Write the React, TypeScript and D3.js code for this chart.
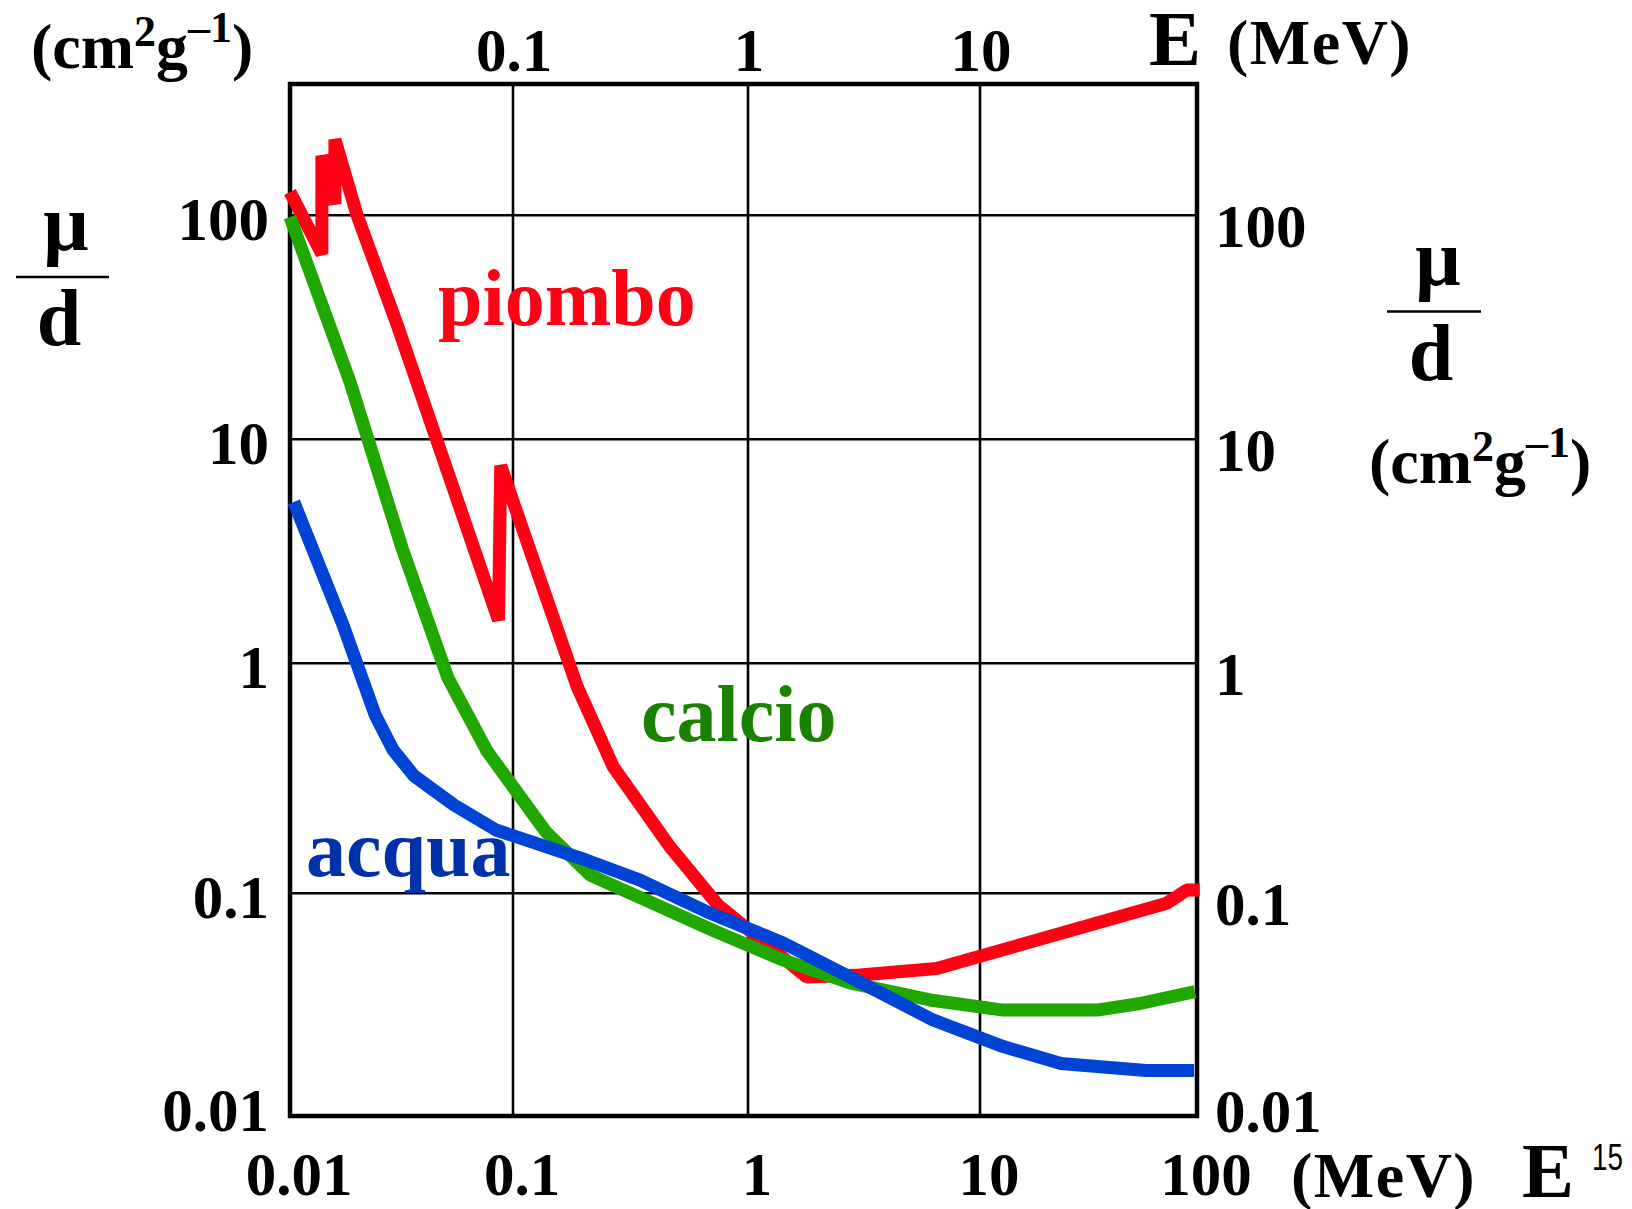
import React from 'react';
import * as d3 from 'd3';

// ---- data ----
const gridE = [0.1, 1, 10];
const gridMu = [0.1, 1, 10, 100];
const topTickValues = [0.1, 1, 10];
const topTickLabels = ['0.1', '1', '10'];
const bottomTickValues = [0.01, 0.1, 1, 10, 100];
const bottomTickLabels = ['0.01', '0.1', '1', '10', '100'];
const yTickValues = [0.01, 0.1, 1, 10, 100];
const yTickLabels = ['0.01', '0.1', '1', '10', '100'];

const piomboE = [0.01, 0.0139, 0.0139, 0.0159, 0.0159, 0.02, 0.0305, 0.0861, 0.0881, 0.187, 0.267, 0.466, 0.745, 1.79, 3.04, 6.51, 72.5, 89.6, 103];
const piomboMu = [127, 67.2, 184.5, 112.3, 218, 100, 31.7, 1.56, 7.62, 0.797, 0.355, 0.159, 0.0886, 0.0421, 0.043, 0.046, 0.0902, 0.1033, 0.1033];

const calcioE = [0.01, 0.0186, 0.0318, 0.0511, 0.0764, 0.138, 0.213, 0.736, 1.415, 2.75, 6.09, 12.8, 34.6, 54.6, 97.9];
const calcioMu = [98.3, 18.0, 3.27, 0.863, 0.416, 0.185, 0.12, 0.067, 0.0502, 0.0396, 0.0332, 0.0299, 0.0299, 0.032, 0.0362];

const acquaE = [0.0104, 0.0173, 0.0241, 0.029, 0.036, 0.0544, 0.0839, 0.2045, 0.347, 0.667, 1.419, 2.75, 6.27, 12.8, 23.6, 58.2, 96.9];
const acquaMu = [5.25, 1.48, 0.596, 0.42, 0.324, 0.242, 0.1885, 0.1396, 0.1142, 0.0827, 0.0598, 0.0421, 0.027, 0.0205, 0.0172, 0.016, 0.016];

const series = [
  { name: 'piombo', E: piomboE, mu: piomboMu, color: '#ff0014' },
  { name: 'calcio', E: calcioE, mu: calcioMu, color: '#20a800' },
  { name: 'acqua', E: acquaE, mu: acquaMu, color: '#0044d6' },
];

// ---- layout ----
const W = 1632;
const H = 1209;
const left = 290;
const right = 1197;
const top = 84;
const bottom = 1116;
const FONT = '"Liberation Serif", "Times New Roman", serif';

// hand-drawn decades: piecewise log scales
const x = d3.scaleLog().domain([0.01, 0.1, 1, 10, 100]).range([left, 513, 748, 980, right]);
const y = d3.scaleLog().domain([0.01, 0.1, 1, 10, 100]).range([bottom, 893.3, 663.3, 439.3, 215.3]);

const line = d3
  .line<[number, number]>()
  .x((d) => x(d[0]))
  .y((d) => y(d[1]));

function Unit({ x0, yb }: { x0: number; yb: number }) {
  return (
    <text x={x0} y={yb} fontFamily={FONT} fontWeight="bold" fontSize={64} fill="#000">
      <tspan>(cm</tspan>
      <tspan fontSize={44} dy={-22}>2</tspan>
      <tspan fontSize={64} dy={22}>g</tspan>
      <tspan fontSize={44} dy={-26}>–1</tspan>
      <tspan fontSize={64} dy={26}>)</tspan>
    </text>
  );
}

function Frac({ cx, muShift, dShift, lineY, x1, x2 }: { cx: number; muShift: number; dShift: number; lineY: number; x1: number; x2: number }) {
  return (
    <g fontFamily={FONT} fontWeight="bold" fontSize={80} fill="#000" textAnchor="middle">
      <text x={cx + muShift} y={lineY - 27}>μ</text>
      <line x1={x1} x2={x2} y1={lineY} y2={lineY} stroke="#000" strokeWidth={2.5} />
      <text x={cx + dShift} y={lineY + 68}>d</text>
    </g>
  );
}

export default function App() {
  return (
    <svg
      width={W}
      height={H}
      viewBox={`0 0 ${W} ${H}`}
      style={{ position: 'absolute', left: 0, top: 0, background: '#fff' }}
    >
      <rect x={0} y={0} width={W} height={H} fill="#fff" />

      {/* grid */}
      <g stroke="#000" strokeWidth={2.6}>
        {gridE.map((v) => (
          <line key={'gx' + v} x1={x(v)} x2={x(v)} y1={top} y2={bottom} />
        ))}
        {gridMu.map((v) => (
          <line key={'gy' + v} x1={left} x2={right} y1={y(v)} y2={y(v)} />
        ))}
      </g>

      {/* frame */}
      <rect x={left} y={top} width={right - left} height={bottom - top} fill="none" stroke="#000" strokeWidth={4.5} />

      {/* curves */}
      {series.map((s) => (
        <path
          key={s.name}
          d={line(s.E.map((e, i) => [e, s.mu[i]] as [number, number])) || ''}
          fill="none"
          stroke={s.color}
          strokeWidth={13}
          strokeLinejoin="bevel"
          strokeLinecap="butt"
        />
      ))}

      {/* tick labels */}
      <g fontFamily={FONT} fontWeight="bold" fontSize={61} fill="#000">
        {topTickValues.map((v, i) => (
          <text key={'t' + v} x={x(v) + 1} y={71} textAnchor="middle">{topTickLabels[i]}</text>
        ))}
        {bottomTickValues.map((v, i) => (
          <text key={'b' + v} x={x(v) + 9} y={1195} textAnchor="middle">{bottomTickLabels[i]}</text>
        ))}
        {yTickValues.map((v, i) => (
          <text key={'l' + v} x={269} y={y(v) + (v === 0.01 ? 15 : 25)} textAnchor="end">{yTickLabels[i]}</text>
        ))}
        {yTickValues.map((v, i) => (
          <text key={'r' + v} x={1215} y={y(v) + (v === 0.01 ? 16 : 32)} textAnchor="start">{yTickLabels[i]}</text>
        ))}
      </g>

      {/* axis titles */}
      <text x={1149} y={65} fontFamily={FONT} fontWeight="bold" fontSize={78}>E</text>
      <text x={1227} y={64} fontFamily={FONT} fontWeight="bold" fontSize={64} letterSpacing={1.5}>(MeV)</text>
      <text x={1291} y={1197} fontFamily={FONT} fontWeight="bold" fontSize={64} letterSpacing={1.5}>(MeV)</text>
      <text x={1522} y={1197} fontFamily={FONT} fontWeight="bold" fontSize={78}>E</text>
      <text x={1592} y={1170} fontFamily='"Liberation Sans", Arial, sans-serif' fontSize={37} textLength={31} lengthAdjust="spacingAndGlyphs">15</text>

      <Unit x0={31} yb={68} />
      <Unit x0={1369} yb={483} />

      <Frac cx={62} muShift={4} dShift={-3} lineY={277} x1={16} x2={109} />
      <Frac cx={1434} muShift={4} dShift={-3} lineY={311.5} x1={1387} x2={1481} />

      {/* curve names */}
      <g fontFamily={FONT} fontWeight="bold" fontSize={80}>
        <text x={438} y={325} fill="#ff0014">piombo</text>
        <text x={641} y={741} fill="#1a8200">calcio</text>
        <text x={306} y={876} fill="#0031a8">acqua</text>
      </g>
    </svg>
  );
}
